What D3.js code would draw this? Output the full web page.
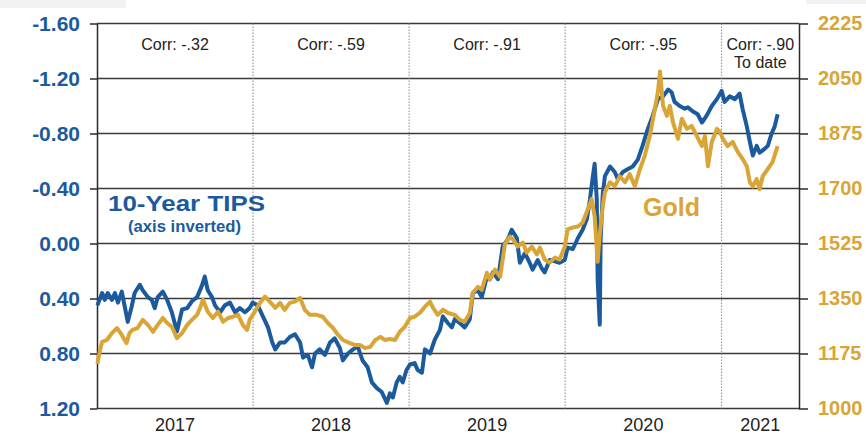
<!DOCTYPE html>
<html>
<head>
<meta charset="utf-8">
<script src="https://cdn.jsdelivr.net/npm/d3@7"></script>
<style>
body { margin: 0; background: #fff; }
svg { display: block; font-family: "Liberation Sans", Arial, sans-serif; }
</style>
</head>
<body>
<script>
// 10-year TIPS yield (left axis, inverted) and gold price (right axis)
var tipsDates = [
"2017-01-02","2017-01-13","2017-01-19","2017-01-26","2017-02-05","2017-02-12","2017-02-19","2017-02-28",
"2017-03-07","2017-03-14","2017-03-23","2017-03-30","2017-04-11","2017-04-18","2017-04-30","2017-05-09",
"2017-05-16","2017-05-23","2017-06-04","2017-06-14","2017-06-25","2017-07-07","2017-07-19","2017-07-31",
"2017-08-11","2017-08-23","2017-09-03","2017-09-10","2017-09-17","2017-09-27","2017-10-04","2017-10-16",
"2017-10-27","2017-11-08","2017-11-20","2017-12-01","2017-12-13","2017-12-24","2017-12-31","2018-01-12",
"2018-01-24","2018-02-05","2018-02-15","2018-02-22","2018-03-05","2018-03-16","2018-03-28","2018-04-09",
"2018-04-21","2018-04-28","2018-05-09","2018-05-19","2018-05-26","2018-06-06","2018-06-18","2018-06-30",
"2018-07-11","2018-07-23","2018-07-30","2018-08-11","2018-08-23","2018-09-03","2018-09-14","2018-09-26",
"2018-10-06","2018-10-17","2018-10-29","2018-11-10","2018-11-17","2018-11-24","2018-12-03","2018-12-10",
"2018-12-17","2018-12-26","2019-01-03","2019-01-14","2019-01-21","2019-01-31","2019-02-07","2019-02-19",
"2019-03-02","2019-03-14","2019-03-21","2019-04-02","2019-04-11","2019-04-18","2019-04-30","2019-05-11",
"2019-05-23","2019-05-30","2019-06-11","2019-06-20","2019-07-02","2019-07-09","2019-07-16","2019-07-28",
"2019-08-08","2019-08-20","2019-08-29","2019-09-10","2019-09-17","2019-09-29","2019-10-10","2019-10-17",
"2019-10-29","2019-11-07","2019-11-14","2019-11-26","2019-12-08","2019-12-19","2019-12-31","2020-01-07",
"2020-01-19","2020-01-31","2020-02-11","2020-02-21","2020-02-28","2020-03-05","2020-03-10","2020-03-15",
"2020-03-17","2020-03-22","2020-03-24","2020-03-29","2020-04-03","2020-04-15","2020-04-26","2020-05-03",
"2020-05-15","2020-05-26","2020-06-07","2020-06-19","2020-06-30","2020-07-12","2020-07-24","2020-08-05",
"2020-08-17","2020-08-29","2020-09-06","2020-09-13","2020-09-25","2020-10-07","2020-10-14","2020-10-26",
"2020-11-06","2020-11-16","2020-11-27","2020-12-09","2020-12-21","2021-01-01","2021-01-08","2021-01-20",
"2021-02-01","2021-02-12","2021-02-19","2021-03-01","2021-03-08","2021-03-15","2021-03-24","2021-03-31",
"2021-04-12","2021-04-19","2021-04-28","2021-05-05","2021-05-12"
];
var tipsValues = [
0.45,0.36,0.41,0.36,0.41,0.36,0.43,0.35,
0.46,0.57,0.46,0.36,0.30,0.34,0.39,0.41,
0.47,0.39,0.35,0.41,0.50,0.64,0.48,0.47,
0.42,0.39,0.31,0.24,0.34,0.39,0.45,0.50,
0.45,0.43,0.50,0.47,0.50,0.47,0.43,0.45,
0.53,0.61,0.72,0.77,0.72,0.72,0.68,0.66,
0.72,0.83,0.81,0.90,0.80,0.77,0.81,0.72,
0.69,0.76,0.85,0.80,0.77,0.75,0.85,0.90,
1.01,1.05,1.08,1.16,1.09,1.12,1.01,0.97,
1.01,0.92,0.88,0.87,0.92,0.94,0.77,0.80,
0.70,0.63,0.53,0.58,0.61,0.55,0.58,0.61,
0.55,0.36,0.34,0.39,0.24,0.26,0.21,0.26,
0.02,-0.03,-0.10,-0.04,0.14,0.07,0.14,0.19,
0.12,0.18,0.21,0.12,0.13,0.14,0.12,0.03,
0.04,-0.04,-0.10,-0.18,-0.32,-0.47,-0.58,-0.32,
0.26,0.59,-0.03,-0.36,-0.49,-0.56,-0.52,-0.47,
-0.52,-0.54,-0.56,-0.61,-0.71,-0.83,-0.93,-1.05,
-1.07,-1.12,-1.10,-1.03,-1.00,-0.98,-0.99,-0.96,
-0.94,-0.88,-0.93,-1.00,-1.05,-1.11,-1.03,-1.07,
-1.05,-1.09,-0.98,-0.85,-0.74,-0.64,-0.71,-0.66,
-0.69,-0.71,-0.80,-0.85,-0.94
];

var goldDates = [
"2017-01-02","2017-01-08","2017-01-13","2017-01-24","2017-02-05","2017-02-17","2017-02-28","2017-03-11",
"2017-03-18","2017-03-25","2017-04-06","2017-04-18","2017-04-30","2017-05-12","2017-05-23","2017-06-04",
"2017-06-14","2017-06-25","2017-07-07","2017-07-19","2017-07-31","2017-08-11","2017-08-23","2017-08-30",
"2017-09-06","2017-09-17","2017-09-29","2017-10-11","2017-10-23","2017-11-04","2017-11-15","2017-11-27",
"2017-12-08","2017-12-18","2017-12-24","2018-01-05","2018-01-17","2018-01-29","2018-02-09","2018-02-22",
"2018-03-05","2018-03-16","2018-03-28","2018-04-09","2018-04-21","2018-05-02","2018-05-14","2018-05-30",
"2018-06-13","2018-06-25","2018-07-07","2018-07-19","2018-07-30","2018-08-16","2018-08-28","2018-09-08",
"2018-09-20","2018-10-02","2018-10-14","2018-10-26","2018-11-05","2018-11-17","2018-11-29","2018-12-10",
"2018-12-22","2019-01-03","2019-01-14","2019-01-26","2019-02-07","2019-02-19","2019-02-26","2019-03-09",
"2019-03-21","2019-04-02","2019-04-18","2019-04-30","2019-05-11","2019-05-23","2019-05-30","2019-06-11",
"2019-06-20","2019-07-02","2019-07-09","2019-07-21","2019-08-02","2019-08-13","2019-08-25","2019-09-01",
"2019-09-12","2019-09-24","2019-10-03","2019-10-15","2019-10-27","2019-11-03","2019-11-14","2019-11-26",
"2019-12-08","2019-12-19","2019-12-31","2020-01-07","2020-01-19","2020-01-31","2020-02-11","2020-02-23",
"2020-03-03","2020-03-10","2020-03-17","2020-03-22","2020-03-29","2020-04-03","2020-04-15","2020-04-26",
"2020-05-08","2020-05-20","2020-05-31","2020-06-12","2020-06-24","2020-07-05","2020-07-17","2020-07-29",
"2020-08-05","2020-08-10","2020-08-17","2020-08-26","2020-09-02","2020-09-09","2020-09-21","2020-09-30",
"2020-10-12","2020-10-23","2020-11-04","2020-11-16","2020-11-23","2020-11-30","2020-12-09","2020-12-21",
"2020-12-28","2021-01-04","2021-01-15","2021-01-27","2021-02-08","2021-02-19","2021-03-01","2021-03-08",
"2021-03-15","2021-03-24","2021-03-31","2021-04-07","2021-04-19","2021-04-30","2021-05-12"
];
var goldValues = [
1142,1186,1212,1218,1240,1256,1234,1208,
1240,1250,1256,1282,1266,1244,1266,1288,
1272,1260,1224,1240,1266,1282,1298,1320,
1346,1308,1288,1308,1276,1288,1292,1298,
1266,1250,1282,1308,1336,1356,1340,1320,
1336,1314,1336,1340,1352,1314,1298,1298,
1292,1272,1256,1234,1218,1208,1202,1202,
1192,1196,1218,1228,1218,1221,1218,1244,
1260,1288,1292,1304,1324,1340,1320,1298,
1314,1304,1298,1282,1276,1304,1368,1387,
1378,1432,1410,1442,1419,1522,1547,1538,
1515,1528,1496,1515,1490,1512,1474,1464,
1480,1474,1515,1570,1576,1579,1592,1634,
1666,1611,1467,1554,1643,1688,1720,1707,
1739,1720,1746,1707,1762,1803,1867,1954,
2008,2072,1963,1931,1963,1912,1858,1922,
1890,1899,1867,1835,1867,1771,1848,1890,
1880,1858,1835,1848,1816,1794,1771,1720,
1707,1730,1698,1739,1762,1784,1835
];

var tipsTicks = [-1.6, -1.2, -0.8, -0.4, 0, 0.4, 0.8, 1.2];
var tipsTickLabels = ["-1.60", "-1.20", "-0.80", "-0.40", "0.00", "0.40", "0.80", "1.20"];
var goldTicks = [1000, 1175, 1350, 1525, 1700, 1875, 2050, 2225];

var periodStarts = ["2017-01-01", "2018-01-01", "2019-01-01", "2020-01-01", "2021-01-01"];
var periodEnd = "2021-07-01";
var yearLabels = ["2017", "2018", "2019", "2020", "2021"];
var corrLabels = [["Corr: -.32"], ["Corr: -.59"], ["Corr: -.91"], ["Corr: -.95"], ["Corr: -.90", "To date"]];

var w = 866, h = 448;
var plotL = 97, plotR = 799, plotT = 23.5, plotB = 408.5;
var blue = "#1c5a9e", gold = "#d9a537";

var parse = d3.timeParse("%Y-%m-%d");

var svg = d3.select("body")
    .append("svg")
    .attr("width", w)
    .attr("height", h);

svg.append("rect").attr("width", w).attr("height", h).attr("fill", "#fff");
// pale strips at the picture edge
svg.append("rect").attr("x", 0).attr("y", 0).attr("width", 126).attr("height", 8).attr("fill", "#f2f2f2");
svg.append("rect").attr("x", 806).attr("y", 0).attr("width", 60).attr("height", 4).attr("fill", "#f2f2f2");

var x = d3.scaleTime()
    .domain([parse(periodStarts[0]), parse(periodEnd)])
    .range([plotL, plotR]);

var yTips = d3.scaleLinear()
    .domain([-1.6, 1.2])
    .range([plotT, plotB]);

var yGold = d3.scaleLinear()
    .domain([1000, 2225])
    .range([plotB, plotT]);

// horizontal grid
svg.append("g")
    .selectAll("line")
    .data(tipsTicks)
    .enter()
    .append("line")
    .attr("x1", plotL)
    .attr("x2", plotR)
    .attr("y1", function(d) { return yTips(d); })
    .attr("y2", function(d) { return yTips(d); })
    .attr("stroke", "#3a3a3a")
    .attr("stroke-width", 1.4);

// dotted year separators
svg.append("g")
    .selectAll("line")
    .data(periodStarts.slice(1))
    .enter()
    .append("line")
    .attr("x1", function(d) { return x(parse(d)); })
    .attr("x2", function(d) { return x(parse(d)); })
    .attr("y1", plotT)
    .attr("y2", plotB)
    .attr("stroke", "#888")
    .attr("stroke-width", 1)
    .attr("stroke-dasharray", "1.5,1.5");

// axes
var leftAxis = svg.append("g")
    .attr("transform", "translate(" + plotL + ",0)")
    .call(d3.axisLeft(yTips)
        .tickValues(tipsTicks)
        .tickSize(7)
        .tickSizeOuter(0)
        .tickPadding(10)
        .tickFormat(function(d, i) { return tipsTickLabels[i]; }));

var rightAxis = svg.append("g")
    .attr("transform", "translate(" + plotR + ",0)")
    .call(d3.axisRight(yGold)
        .tickValues(goldTicks)
        .tickSize(9)
        .tickSizeOuter(0)
        .tickPadding(10)
        .tickFormat(d3.format("d")));

leftAxis.selectAll("path, line").attr("stroke", "#2a2a2a").attr("stroke-width", 1.5);
rightAxis.selectAll("path, line").attr("stroke", "#2a2a2a").attr("stroke-width", 1.5);

leftAxis.selectAll("text")
    .attr("font-size", "21px")
    .attr("font-weight", "bold")
    .attr("fill", blue);

rightAxis.selectAll("text")
    .attr("font-size", "20px")
    .attr("font-weight", "bold")
    .attr("fill", gold);

// period midpoints for year and correlation labels
var mids = periodStarts.map(function(d, i) {
    var a = x(parse(d));
    var b = x(parse(i < periodStarts.length - 1 ? periodStarts[i + 1] : periodEnd));
    return (a + b) / 2;
});

svg.append("g")
    .selectAll("text")
    .data(yearLabels)
    .enter()
    .append("text")
    .text(function(d) { return d; })
    .attr("x", function(d, i) { return mids[i]; })
    .attr("y", 431)
    .attr("text-anchor", "middle")
    .attr("font-size", "18px")
    .attr("fill", "#222");

var corr = svg.append("g")
    .selectAll("text")
    .data(corrLabels)
    .enter()
    .append("text")
    .attr("x", function(d, i) { return mids[i]; })
    .attr("y", 50)
    .attr("text-anchor", "middle")
    .attr("font-size", "16px")
    .attr("fill", "#222");

corr.selectAll("tspan")
    .data(function(d) { return d; })
    .enter()
    .append("tspan")
    .attr("x", function() { return d3.select(this.parentNode).attr("x"); })
    .attr("dy", function(d, i) { return i === 0 ? 0 : 18; })
    .text(function(d) { return d; });

// series lines
var tipsLine = d3.line()
    .x(function(d, i) { return x(parse(tipsDates[i])); })
    .y(function(d) { return yTips(d); });

var goldLine = d3.line()
    .x(function(d, i) { return x(parse(goldDates[i])); })
    .y(function(d) { return yGold(d); });

svg.append("path")
    .datum(tipsValues)
    .attr("d", tipsLine)
    .attr("fill", "none")
    .attr("stroke", blue)
    .attr("stroke-width", 4)
    .attr("stroke-linejoin", "round");

svg.append("path")
    .datum(goldValues)
    .attr("d", goldLine)
    .attr("fill", "none")
    .attr("stroke", gold)
    .attr("stroke-width", 4)
    .attr("stroke-linejoin", "round");

// series labels
svg.append("text")
    .text("10-Year TIPS")
    .attr("x", 108)
    .attr("y", 211)
    .attr("font-size", "22px")
    .attr("font-weight", "bold")
    .attr("fill", blue)
    .attr("textLength", 157)
    .attr("lengthAdjust", "spacingAndGlyphs");

svg.append("text")
    .text("(axis inverted)")
    .attr("x", 128)
    .attr("y", 232)
    .attr("font-size", "16px")
    .attr("font-weight", "bold")
    .attr("fill", blue)
    .attr("textLength", 113)
    .attr("lengthAdjust", "spacingAndGlyphs");

svg.append("text")
    .text("Gold")
    .attr("x", 643)
    .attr("y", 216)
    .attr("font-size", "25px")
    .attr("font-weight", "bold")
    .attr("fill", gold);
</script>
</body>
</html>
